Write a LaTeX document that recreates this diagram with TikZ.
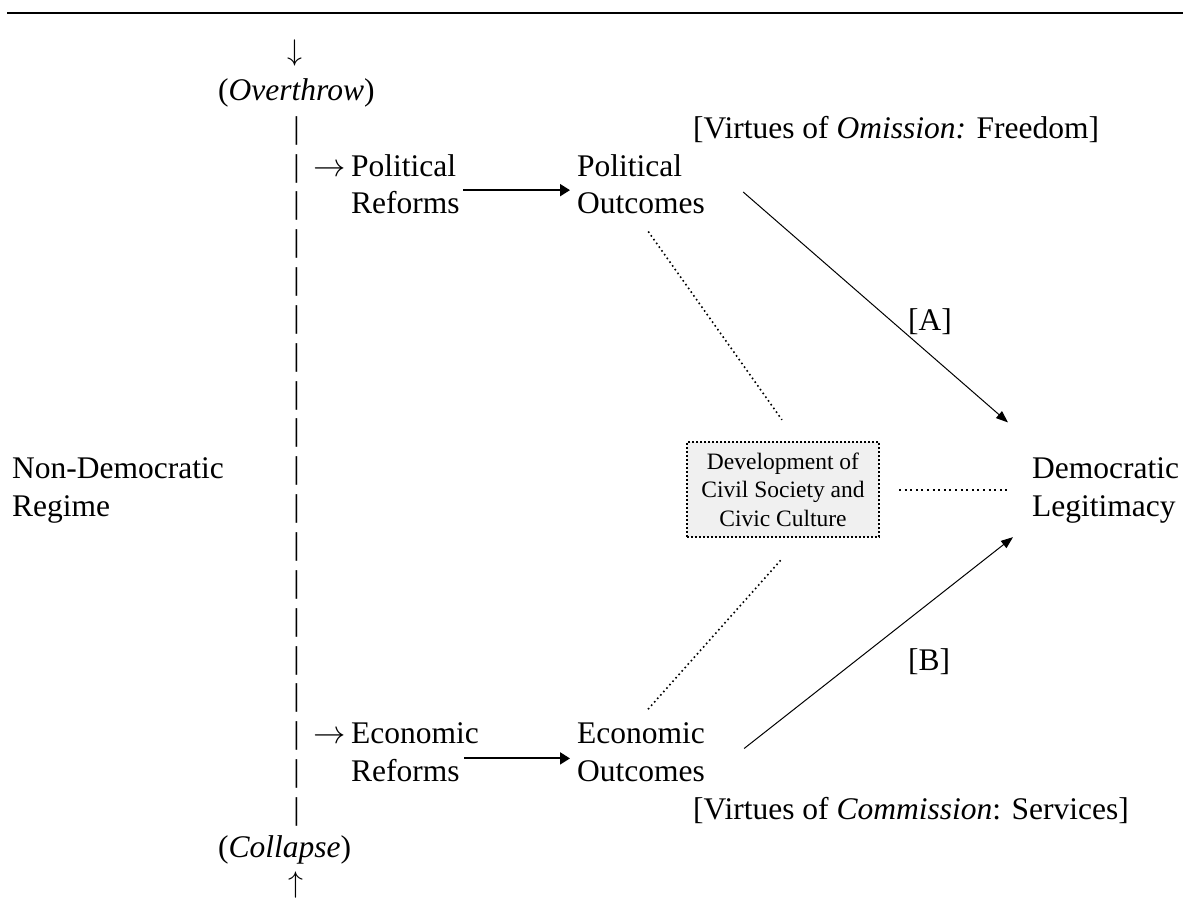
\documentclass[tikz,border=0pt]{standalone}
\usepackage{fontspec}
\setmainfont{Liberation Serif}
\usetikzlibrary{arrows.meta}
\definecolor{boxgray}{HTML}{F0F0F0}
\newcommand\twolines[2]{\vtop{\hbox{#1}\hbox{#2}}}
\begin{document}
\begin{tikzpicture}[x=1pt,y=-1pt,
  txt/.style={inner sep=0pt, font=\fontsize{31.5pt}{37.85pt}\selectfont, anchor=base west},
  varr/.style={inner sep=0pt, font=\fontsize{26pt}{30pt}\selectfont, anchor=base},
  harr/.style={inner sep=0pt, font=\fontsize{28pt}{30pt}\selectfont, anchor=base west},
  civbox/.style={draw, fill=boxgray, line width=2pt, dash pattern=on 2pt off 2pt,
    minimum width=192pt, minimum height=95pt, inner sep=0pt, align=center,
    font=\fontsize{23.5pt}{28.5pt}\selectfont},
  boldarr/.style={line width=2pt, -{Triangle[length=10pt,width=12pt]}},
  thinarr/.style={line width=1pt, -{Triangle[length=12pt,width=9pt]}},
  dotlink/.style={line width=1.6pt, dash pattern=on 1.6pt off 3pt},
  dothor/.style={line width=2pt, dash pattern=on 2pt off 3.6pt}]
\useasboundingbox (0,0) rectangle (1183,899);
% top rule
\coordinate (ruleL) at (7,12.7);
\coordinate (ruleR) at (1183,12.7);
\draw[line width=2pt] (ruleL) -- (ruleR);
% left column
\node[varr] (down) at (295,61) {\scalebox{1.2}{$\downarrow$}};
\node[txt] (overthrow) at (218,100.3) {(\textit{Overthrow})};
\foreach \k in {-1,...,17}
  \node[txt, anchor=base] (bar\k) at (296.5,{176+37.85*\k}) {|};
\node[txt] (collapse) at (218,857.3) {(\textit{Collapse})};
\node[varr] (up) at (296,892) {\scalebox{1.2}{$\uparrow$}};
\node[txt] (ndr) at (12,478.8) {\twolines{Non-Democratic}{Regime}};
% reforms
\node[harr] (arrA) at (313,176) {\scalebox{1.3}{$\rightarrow$}};
\node[txt] (prefA) at (351,176) {\twolines{Political}{Reforms}};
\node[harr] (arrB) at (313,743.75) {\scalebox{1.3}{$\rightarrow$}};
\node[txt] (prefB) at (351,743.75) {\twolines{Economic}{Reforms}};
% outcomes
\node[txt] (poutA) at (577,176) {\twolines{Political}{Outcomes}};
\node[txt] (poutB) at (577,743.75) {\twolines{Economic}{Outcomes}};
\node[txt] (virtA) at (693,138.15) {[Virtues of \textit{Omission:} Freedom]};
\node[txt] (virtB) at (693,819.45) {[Virtues of \textit{Commission}: Services]};
% centre box and legitimacy
\node[civbox] (civ) at (783,489.5) {Development of\\Civil Society and\\Civic Culture};
\node[txt] (dl) at (1032,478.8) {\twolines{Democratic}{Legitimacy}};
\node[txt] (labA) at (908,330) {[A]};
\node[txt] (labB) at (908,670) {[B]};
% connectors
\draw[boldarr, shorten <=3.5pt, shorten >=7pt] ([yshift=-6pt]prefA.east) -- ([yshift=-6pt]poutA.west);
\draw[boldarr, shorten >=7pt] ([xshift=-15pt,yshift=-6pt]prefB.east) -- ([yshift=-6pt]poutB.west);
\draw[thinarr] ([shift={(38,7.8)}]poutA.east) -- ([shift={(-24,-35.3)}]dl.north west);
\draw[thinarr] ([shift={(39,-3.9)}]poutB.east) -- ([shift={(-19,13.5)}]dl.south west);
\draw[dotlink, shorten <=21pt, shorten >=26pt] ([xshift=-5pt]poutA.south) -- ([xshift=14pt]civ.north);
\draw[dotlink, shorten <=18pt, shorten >=27pt] ([xshift=-5pt]poutB.north) -- ([xshift=17.5pt]civ.south);
\draw[dothor, shorten <=19pt, shorten >=24pt] (civ.east) -- (civ.east -| dl.west);
\end{tikzpicture}
\end{document}
